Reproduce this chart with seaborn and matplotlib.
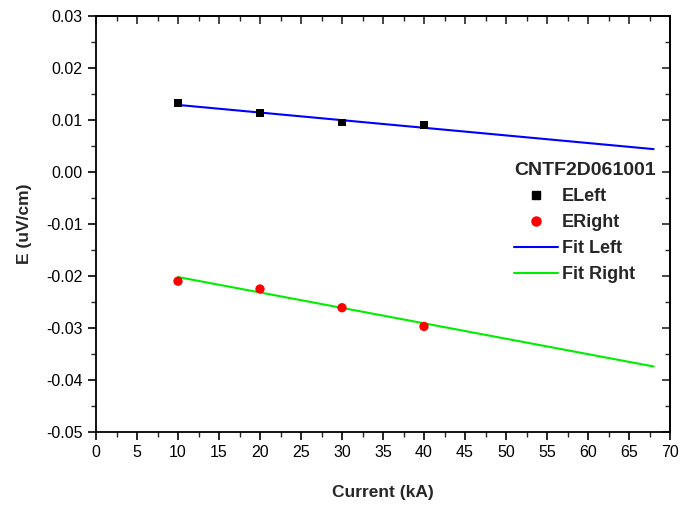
import matplotlib
matplotlib.use("Agg")
import matplotlib.pyplot as plt
import seaborn as sns
import pandas as pd
from matplotlib.ticker import MultipleLocator, FuncFormatter
from matplotlib.lines import Line2D

sns.set_theme(style="white")
plt.rcParams['font.family'] = ['Liberation Sans', 'DejaVu Sans']

current = [10, 20, 30, 40]
e_left = [0.0133, 0.0114, 0.0095, 0.0090]
e_right = [-0.0210, -0.0225, -0.0261, -0.0297]

fit_x = [10, 68]
fit_left = [0.0129, 0.0044]
fit_right = [-0.0202, -0.0374]

legend_title = "CNTF2D061001"

pts = pd.DataFrame({"x": current * 2, "y": e_left + e_right,
                    "s": ["ELeft"] * 4 + ["ERight"] * 4})
fits = pd.DataFrame({"x": fit_x * 2, "y": fit_left + fit_right,
                     "s": ["Fit Left"] * 2 + ["Fit Right"] * 2})

fig = plt.figure(figsize=(6.86, 5.07), dpi=100)
ax = fig.add_axes([96 / 686, 1 - 432 / 507, (670 - 96) / 686, (432 - 16) / 507])

sns.lineplot(data=fits, x="x", y="y", hue="s",
             palette={"Fit Left": "#0000ff", "Fit Right": "#00ee00"},
             linewidth=1.5, ax=ax, legend=False)
sns.scatterplot(data=pts[pts.s == "ELeft"], x="x", y="y", marker="s", color="black",
                s=30, edgecolor="none", ax=ax, legend=False, zorder=3)
sns.scatterplot(data=pts[pts.s == "ERight"], x="x", y="y", marker="o", color="#ff0000",
                s=45, edgecolor="none", ax=ax, legend=False, zorder=3)

ax.set_xlim(0, 70)
ax.set_ylim(-0.05, 0.03)
ax.xaxis.set_major_locator(MultipleLocator(5))
ax.xaxis.set_minor_locator(MultipleLocator(2.5))
ax.yaxis.set_major_locator(MultipleLocator(0.01))
ax.yaxis.set_minor_locator(MultipleLocator(0.005))


def yfmt(v, pos):
    s = "%.2f" % v
    if s == "-0.00":
        s = "0.00"
    return s


ax.yaxis.set_major_formatter(FuncFormatter(yfmt))
ax.xaxis.set_major_formatter(FuncFormatter(lambda v, p: "%d" % round(v)))

for sp in ax.spines.values():
    sp.set_color("black")
    sp.set_linewidth(1.3)

ax.tick_params(axis="both", which="major", direction="out", length=6, width=1.2,
               labelsize=11.5, colors="black", bottom=True, left=True)
ax.tick_params(axis="both", which="minor", direction="out", length=3.5, width=1.0,
               bottom=True, left=True)
secx = ax.secondary_xaxis("top")
secx.xaxis.set_major_locator(MultipleLocator(5))
secx.xaxis.set_minor_locator(MultipleLocator(2.5))
secx.tick_params(which="major", direction="in", length=6, width=1.2, labeltop=False)
secx.tick_params(which="minor", direction="in", length=3.5, width=1.0)
secx.spines["top"].set_linewidth(1.3)
secy = ax.secondary_yaxis("right")
secy.yaxis.set_major_locator(MultipleLocator(0.01))
secy.yaxis.set_minor_locator(MultipleLocator(0.005))
secy.tick_params(which="major", direction="in", length=6, width=1.2, labelright=False)
secy.tick_params(which="minor", direction="in", length=3.5, width=1.0)
secy.spines["right"].set_linewidth(1.3)
ax.tick_params(axis="both", which="both", top=False, right=False)

ax.set_xlabel("Current (kA)", fontsize=12.5, fontweight="bold", labelpad=18)
ax.set_ylabel("E (uV/cm)", fontsize=12.5, fontweight="bold", labelpad=10)

handles = [
    Line2D([], [], marker="s", color="black", linestyle="none", markersize=5.5),
    Line2D([], [], marker="o", color="#ff0000", linestyle="none", markersize=6.5),
    Line2D([], [], color="#0000ff", linewidth=1.5),
    Line2D([], [], color="#00ee00", linewidth=1.5),
]
labels = ["ELeft", "ERight", "Fit Left", "Fit Right"]
leg = ax.legend(handles, labels, title=legend_title, frameon=False,
                loc="upper right", bbox_to_anchor=(656 / 686, 1 - 162 / 507),
                bbox_transform=fig.transFigure, fontsize=13, title_fontsize=14,
                handlelength=2.4, handletextpad=0.25, labelspacing=0.5,
                borderaxespad=0, borderpad=0, alignment="left")
leg.get_title().set_fontweight("bold")
for t in leg.get_texts():
    t.set_fontweight("bold")

fig.savefig("out.png", dpi=100)
